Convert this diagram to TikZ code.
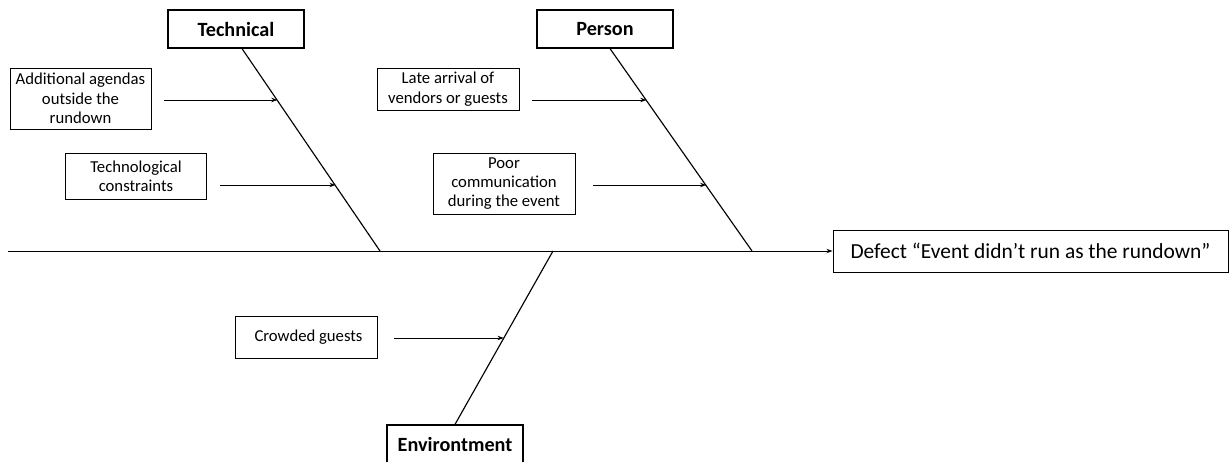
\documentclass[tikz,border=0pt]{standalone}
\usepackage{fontspec}
\setmainfont{Carlito}
\usetikzlibrary{calc, arrows.meta}

\begin{document}
\begin{tikzpicture}[x=0.02cm,y=-0.02cm,
	cat/.style={draw,line width=0.7pt,minimum width=2.72cm,minimum height=0.76cm,font=\fontsize{11.5}{13}\selectfont\bfseries,inner sep=0pt},
	cause/.style={draw,line width=0.55pt,align=center,inner sep=0pt,font=\fontsize{9.5}{11}\selectfont},
	bone/.style={line width=0.65pt},
	arr/.style={line width=0.55pt,-{Stealth[length=3.5pt,width=2.5pt]}}]
	\useasboundingbox (0,0) rectangle (1229,462);
	\node (tech) at (236,29) [cat]{Technical};
	\node (pers) at (605,29) [cat]{Person};
	\node (env) at (455,444) [cat]{Environtment};
	\node (defect) at (1030.5,251) [draw,line width=0.55pt,minimum width=7.9cm,minimum height=0.84cm,inner sep=0pt,font=\fontsize{12.2}{14}\selectfont]{Defect “Event didn’t run as the rundown”};
	\node (c1) at (80.5,98.5) [cause,minimum width=2.82cm,minimum height=1.22cm]{Additional agendas\\outside the\\rundown};
	\node (c2) at (136,176) [cause,minimum width=2.82cm,minimum height=0.92cm]{Technological\\constraints};
	\node (c3) at (448,89) [cause,minimum width=2.84cm,minimum height=0.84cm]{Late arrival of\\vendors or guests};
	\node (c4) at (504,183.5) [cause,minimum width=2.84cm,minimum height=1.22cm]{Poor\\communication\\during the event};
	\node (c5) at (306,337) [cause,minimum width=2.84cm,minimum height=0.84cm]{\hspace{0.1cm}Crowded guests};
	\coordinate (tail) at (8,251);
	\coordinate (ttop) at ([xshift=0.12cm]tech.south);
	\coordinate (ptop) at ([xshift=0.1cm]pers.south);
	\coordinate (tj) at (380,251);
	\coordinate (pj) at (752,251);
	\coordinate (ej) at (553,251);
	\draw[arr] (tail) -- (defect.west);
	\draw[bone] (ttop) -- (tj);
	\draw[bone] (ptop) -- (pj);
	\draw[bone] (env.north) -- (ej);
	\coordinate (a1) at ($(ttop)!0.257!(tj)$);
	\coordinate (a2) at ($(ttop)!0.678!(tj)$);
	\coordinate (a3) at ($(ptop)!0.257!(pj)$);
	\coordinate (a4) at ($(ptop)!0.678!(pj)$);
	\coordinate (a5) at ($(env.north)!0.497!(ej)$);
	\coordinate (s1) at (164,100);
	\coordinate (s2) at (220,185);
	\coordinate (s3) at (532,100);
	\coordinate (s4) at (593,185);
	\coordinate (s5) at (394,338);
	\draw[arr] (s1) -- (s1 -| a1);
	\draw[arr] (s2) -- (s2 -| a2);
	\draw[arr] (s3) -- (s3 -| a3);
	\draw[arr] (s4) -- (s4 -| a4);
	\draw[arr] (s5) -- (s5 -| a5);
\end{tikzpicture}
\end{document}
